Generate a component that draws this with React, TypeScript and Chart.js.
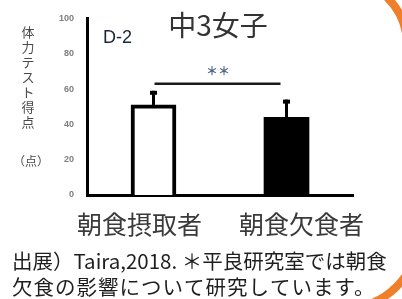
import React, { useEffect, useRef } from "react";
import { Chart, registerables } from "chart.js";

Chart.register(...registerables);

const categories = ["朝食摂取者", "朝食欠食者"];
const means = [51, 44];
const errorsUp = [8, 10];
const yTicks = [0, 20, 40, 60, 80, 100];
const titleText = "中3女子";
const panelLabel = "D-2";
const yTitleChars = ["体", "力", "テ", "ス", "ト", "得", "点"];
const yUnit = "（点）";
const sigMark = "＊＊";
const sigLevel = 63;
const footerLines = [
  "出展）Taira,2018. ＊平良研究室では朝食",
  "欠食の影響について研究しています。",
];

const CJK = '"Noto Sans CJK JP", "Noto Sans", sans-serif';

const decorPlugin = {
  id: "decor",
  afterDatasetsDraw(chart: any) {
    const ctx = chart.ctx;
    const meta = chart.getDatasetMeta(0);
    const ys = chart.scales.y;
    ctx.save();
    ctx.fillStyle = "#000";
    meta.data.forEach((bar: any, i: number) => {
      const x = bar.x;
      const yTop = ys.getPixelForValue(means[i] + errorsUp[i]);
      const yBase = ys.getPixelForValue(means[i]);
      ctx.fillRect(x - 1.5, yTop, 3, yBase - yTop);
      ctx.fillRect(x - 3.5, yTop, 7, 4);
    });
    ctx.restore();
  },
  afterDraw(chart: any) {
    const ctx = chart.ctx;
    const meta = chart.getDatasetMeta(0);
    const ys = chart.scales.y;
    const x1 = meta.data[0].x;
    const x2 = meta.data[1].x;
    ctx.save();

    // significance line
    const sy = ys.getPixelForValue(sigLevel);
    ctx.strokeStyle = "#1a1a1a";
    ctx.lineWidth = 2.5;
    ctx.beginPath();
    ctx.moveTo(x1 + 1, sy);
    ctx.lineTo(x2 - 6, sy);
    ctx.stroke();
    ctx.fillStyle = "#4d5f85";
    ctx.font = `bold 12px ${CJK}`;
    ctx.textAlign = "center";
    ctx.textBaseline = "middle";
    ctx.fillText(sigMark, (x1 + x2) / 2 - 2, sy - 12);

    // title
    ctx.fillStyle = "#333";
    ctx.font = `28px ${CJK}`;
    ctx.textAlign = "center";
    ctx.fillText(titleText, 218, 25);

    // panel label
    ctx.fillStyle = "#1a2535";
    ctx.font = '18px "Liberation Sans", Arial, sans-serif';
    ctx.textAlign = "left";
    ctx.fillText(panelLabel, 103, 38);

    // y title
    ctx.fillStyle = "#4a4a4a";
    ctx.font = `13px ${CJK}`;
    ctx.textAlign = "center";
    yTitleChars.forEach((c, i) => {
      ctx.fillText(c, 28, 32 + i * 15);
    });
    ctx.font = `12px ${CJK}`;
    ctx.fillText(yUnit, 31, 161);

    // category labels
    ctx.fillStyle = "#3a3a3a";
    ctx.font = `25px ${CJK}`;
    ctx.fillText(categories[0], x1 - 14, 224);
    ctx.fillText(categories[1], x2 + 15, 224);

    // footer
    ctx.fillStyle = "#1e1e1e";
    ctx.font = `20.5px ${CJK}`;
    ctx.textAlign = "left";
    ctx.fillText(footerLines[0], 12, 261);
    (ctx as any).letterSpacing = "1px";
    ctx.fillText(footerLines[1], 12, 287);
    (ctx as any).letterSpacing = "0px";

    // orange decorative arcs
    ctx.strokeStyle = "#ef7f2a";
    ctx.lineWidth = 8;
    ctx.beginPath();
    ctx.arc(340, 45, 67, -Math.PI / 2, 0);
    ctx.stroke();
    ctx.beginPath();
    ctx.arc(345, 235, 73, 0, Math.PI / 2);
    ctx.stroke();

    ctx.restore();
  },
};

export default function App() {
  const ref = useRef<HTMLCanvasElement | null>(null);
  useEffect(() => {
    if (!ref.current) return;
    const chart = new Chart(ref.current, {
      type: "bar",
      data: {
        labels: categories,
        datasets: [
          {
            data: means,
            backgroundColor: ["#ffffff", "#000000"],
            borderColor: ["#000000", "#000000"],
            borderWidth: [4, 0],
            borderSkipped: "bottom",
            barThickness: 45,
          },
        ],
      },
      options: {
        responsive: false,
        animation: false,
        devicePixelRatio: 1,
        layout: { padding: { left: 0, top: 17, right: 49, bottom: 104 } },
        plugins: {
          legend: { display: false },
          tooltip: { enabled: false },
          title: { display: false },
        },
        scales: {
          x: {
            type: "category",
            grid: { display: false, drawTicks: false },
            border: { display: true, color: "#000", width: 3 },
            ticks: { display: false },
            afterFit: (s: any) => {
              s.height = 0;
            },
          },
          y: {
            min: 0,
            max: 100,
            afterBuildTicks: (s: any) => {
              s.ticks = yTicks.map((v) => ({ value: v }));
            },
            grid: { display: false, drawTicks: false },
            border: { display: true, color: "#000", width: 3 },
            ticks: {
              padding: 13,
              color: "#7d7d7d",
              font: { family: '"Liberation Sans", Arial, sans-serif', size: 9, weight: "bold" },
            },
            afterFit: (s: any) => {
              s.width = 87;
            },
          },
        },
      },
      plugins: [decorPlugin],
    });
    return () => chart.destroy();
  }, []);
  return (
    <div style={{ position: "absolute", left: 0, top: 0, width: 402, height: 299, background: "#fff" }}>
      <canvas ref={ref} width={402} height={299} style={{ width: 402, height: 299, display: "block" }} />
    </div>
  );
}
